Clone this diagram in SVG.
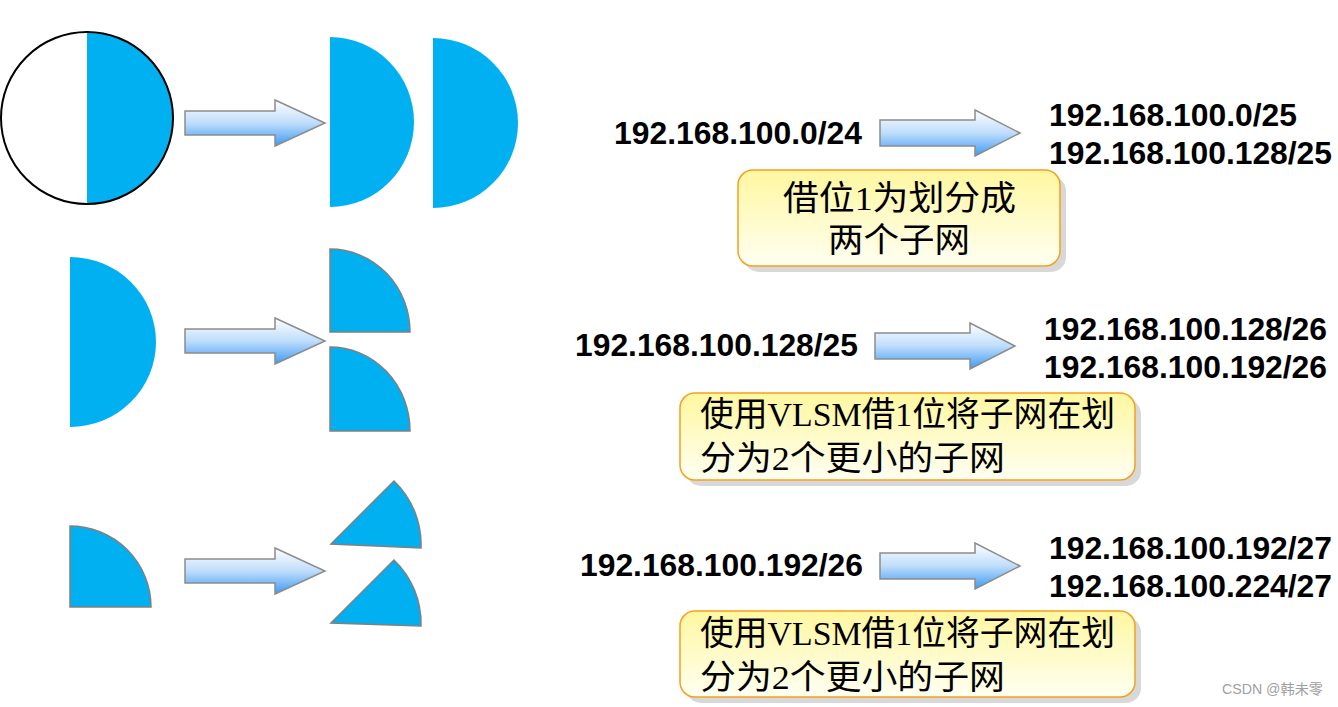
<svg xmlns="http://www.w3.org/2000/svg" width="1338" height="707" viewBox="0 0 1338 707">
<defs>
<linearGradient id="arrowGrad" x1="0" y1="0" x2="0" y2="1">
<stop offset="0" stop-color="#FFFFFF"/>
<stop offset="0.5" stop-color="#BFDDFB"/>
<stop offset="1" stop-color="#3D9BF5"/>
</linearGradient>
<linearGradient id="boxGrad" x1="0" y1="0" x2="0" y2="1">
<stop offset="0" stop-color="#FFF7A0"/>
<stop offset="1" stop-color="#FFFFF2"/>
</linearGradient>
<style>
.blue{fill:#00B0F0;}
.blueS{fill:#00B0F0;stroke:#808080;stroke-width:1.5;}
.arrow{fill:url(#arrowGrad);stroke:#8C8C8C;stroke-width:1.5;}
.ip{font-family:"Liberation Sans",Arial,sans-serif;font-weight:bold;font-size:32px;fill:#000;}
.cn{font-family:"Liberation Serif","Noto Sans CJK SC",serif;font-size:34px;fill:#000;}
.box{fill:url(#boxGrad);stroke:#F5A020;stroke-width:1.5;}
.shadow{fill:#D8D8D8;}
.wm{font-family:"Liberation Sans","Noto Sans CJK SC",sans-serif;font-size:14px;fill:#A0A0A0;}
</style>
</defs>
<rect width="1338" height="707" fill="#FFFFFF"/>

<g id="shapes">
<g id="circle-full">
<path class="blue" d="M87,32 A86,86 0 0,1 87,204 Z"/>
<circle cx="87" cy="118" r="86" fill="none" stroke="#000" stroke-width="2"/>
</g>
<path id="half-a" class="blue" d="M330,37 A84,85 0 0,1 330,207 Z"/>
<path id="half-b" class="blue" d="M433,38 A85,85 0 0,1 433,208 Z"/>
<path id="half-c" class="blue" d="M70,257 A86,85 0 0,1 70,427 Z"/>
<path id="quarter-a" class="blueS" d="M330,249 A80,83 0 0,1 410,332 L330,332 Z"/>
<path id="quarter-b" class="blueS" d="M330,347 A80,84 0 0,1 410,431 L330,431 Z"/>
<path id="quarter-c" class="blueS" d="M70,526 A81,81 0 0,1 151,607 L70,607 Z"/>
<path id="eighth-a" class="blueS" d="M331,544 L394,481 A88,88 0 0,1 421,548 Z"/>
<path id="eighth-b" class="blueS" d="M331,623 L394,560 A88,88 0 0,1 421,626 Z"/>
</g>

<g id="connectors">
<path class="arrow" d="M185,111 H275 V100 L325,123 L275,146 V135 H185 Z"/>
<path class="arrow" d="M185,329 H275 V318 L325,341 L275,364 V353 H185 Z"/>
<path class="arrow" d="M185,559 H275 V548 L325,571 L275,594 V583 H185 Z"/>
<path class="arrow" d="M880,120 H975 V110 L1020,133 L975,156 V146 H880 Z"/>
<path class="arrow" d="M875,333 H970 V323 L1015,346 L970,369 V359 H875 Z"/>
<path class="arrow" d="M880,553 H975 V543 L1020,566 L975,589 V579 H880 Z"/>
</g>

<g id="row1-text">
<text class="ip" x="614" y="144" textLength="248" lengthAdjust="spacingAndGlyphs">192.168.100.0/24</text>
<text class="ip" x="1049" y="126" textLength="248" lengthAdjust="spacingAndGlyphs">192.168.100.0/25</text>
<text class="ip" x="1049" y="164" textLength="283" lengthAdjust="spacingAndGlyphs">192.168.100.128/25</text>
</g>
<g id="callout-1">
<rect class="shadow" x="744" y="176" width="322" height="96" rx="15"/>
<rect class="box" x="738" y="170" width="322" height="96" rx="15"/>
<text class="cn" x="783" y="210" textLength="233" lengthAdjust="spacingAndGlyphs">借位1为划分成</text>
<text class="cn" x="828" y="252" textLength="142" lengthAdjust="spacingAndGlyphs">两个子网</text>
</g>

<g id="row2-text">
<text class="ip" x="575" y="356" textLength="283" lengthAdjust="spacingAndGlyphs">192.168.100.128/25</text>
<text class="ip" x="1044" y="340" textLength="283" lengthAdjust="spacingAndGlyphs">192.168.100.128/26</text>
<text class="ip" x="1044" y="378" textLength="283" lengthAdjust="spacingAndGlyphs">192.168.100.192/26</text>
</g>
<g id="callout-2">
<rect class="shadow" x="686" y="399" width="455" height="87" rx="15"/>
<rect class="box" x="680" y="393" width="455" height="87" rx="15"/>
<text class="cn" x="700" y="426" textLength="415" lengthAdjust="spacingAndGlyphs">使用VLSM借1位将子网在划</text>
<text class="cn" x="700" y="470" textLength="305" lengthAdjust="spacingAndGlyphs">分为2个更小的子网</text>
</g>

<g id="row3-text">
<text class="ip" x="580" y="576" textLength="283" lengthAdjust="spacingAndGlyphs">192.168.100.192/26</text>
<text class="ip" x="1049" y="559" textLength="283" lengthAdjust="spacingAndGlyphs">192.168.100.192/27</text>
<text class="ip" x="1049" y="597" textLength="283" lengthAdjust="spacingAndGlyphs">192.168.100.224/27</text>
</g>
<g id="callout-3">
<rect class="shadow" x="686" y="617" width="455" height="86" rx="15"/>
<rect class="box" x="680" y="611" width="455" height="86" rx="15"/>
<text class="cn" x="700" y="645" textLength="415" lengthAdjust="spacingAndGlyphs">使用VLSM借1位将子网在划</text>
<text class="cn" x="700" y="689" textLength="305" lengthAdjust="spacingAndGlyphs">分为2个更小的子网</text>
</g>

<text id="watermark" class="wm" x="1222" y="694" textLength="101" lengthAdjust="spacingAndGlyphs">CSDN @韩未零</text>
</svg>
